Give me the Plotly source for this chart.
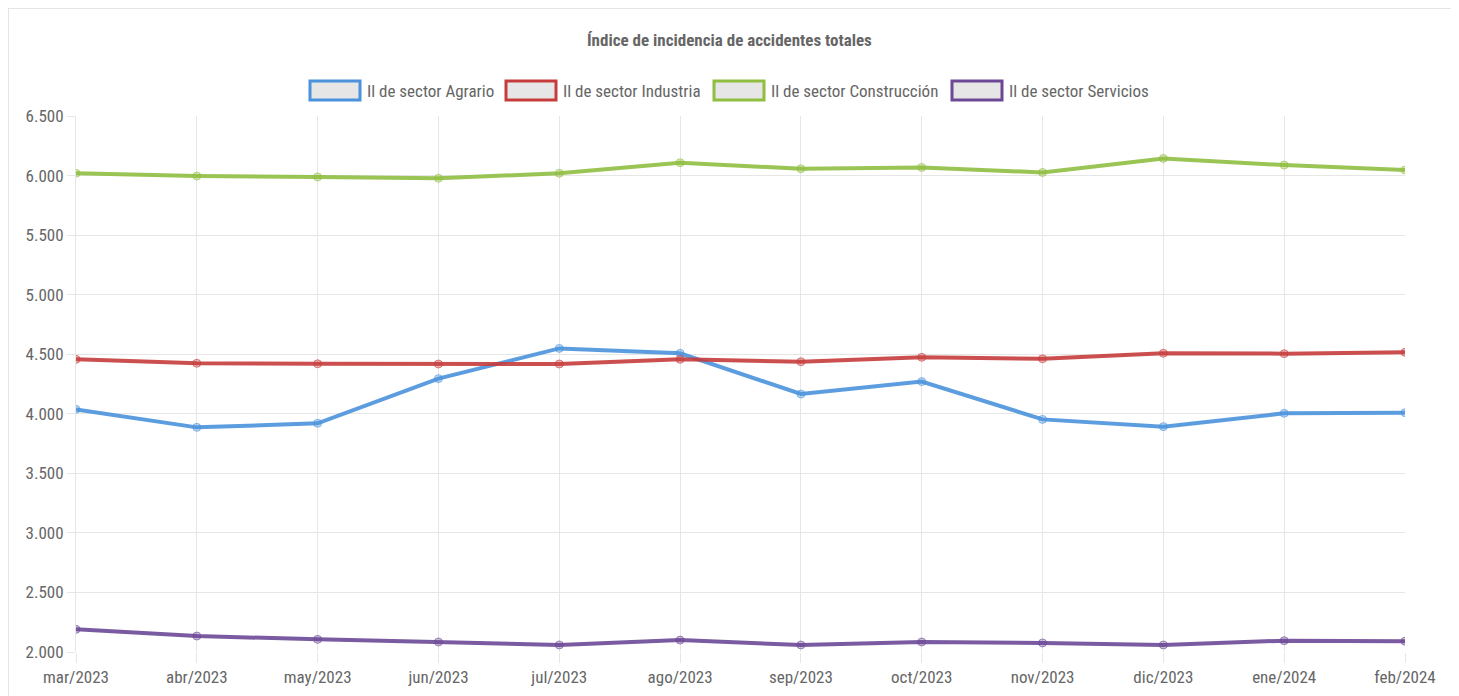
import plotly.graph_objects as go

months = ["mar/2023", "abr/2023", "may/2023", "jun/2023", "jul/2023", "ago/2023",
          "sep/2023", "oct/2023", "nov/2023", "dic/2023", "ene/2024", "feb/2024"]
agrario = [4037, 3886, 3920, 4295, 4549, 4508, 4166, 4270, 3953, 3892, 4004, 4009]
industria = [4457, 4424, 4420, 4418, 4418, 4457, 4437, 4474, 4462, 4508, 4505, 4516]
construccion = [6019, 5996, 5988, 5977, 6019, 6108, 6057, 6068, 6026, 6144, 6088, 6046]
servicios = [2190, 2134, 2106, 2084, 2059, 2100, 2059, 2084, 2076, 2059, 2095, 2090]

series = [
    ("Il de sector Agrario", agrario, (74, 146, 220)),
    ("Il de sector Industria", industria, (198, 60, 60)),
    ("Il de sector Construcción", construccion, (143, 190, 64)),
    ("Il de sector Servicios", servicios, (108, 72, 150)),
]

FONT = "Liberation Sans Narrow, Roboto Condensed, Arial Narrow, Roboto, sans-serif"
OFF = 8  # page body margin offset
W, H = 1459, 696
L, T = 76 - OFF, 116 - OFF
R = W - (1405 - OFF)
B = H - (652 - OFF)
pw, ph = W - L - R, H - T - B

def px(x):
    return (x - OFF - L) / pw

def py(y):
    return (H - B - (y - OFF)) / ph

fig = go.Figure()
for name, vals, c in series:
    fig.add_trace(go.Scatter(
        x=months, y=vals, name=name, mode="lines+markers",
        line=dict(color="rgba(%d,%d,%d,0.9)" % c, width=4),
        marker=dict(size=8, color="rgba(%d,%d,%d,0.35)" % c,
                    line=dict(color="rgba(%d,%d,%d,0.6)" % c, width=1)),
        showlegend=False,
    ))

shapes = []
annotations = []
shapes.append(dict(type="rect", xref="paper", yref="paper",
                   x0=px(8), x1=px(1452), y0=py(710), y1=py(8),
                   line=dict(color="#dddddd", width=1.5), fillcolor="rgba(0,0,0,0)", layer="below"))

legend_pos = [310, 506, 714, 952]
for (name, vals, c), x0 in zip(series, legend_pos):
    shapes.append(dict(type="rect", xref="paper", yref="paper",
                       x0=px(x0), x1=px(x0 + 50), y0=py(100), y1=py(81),
                       line=dict(color="rgb(%d,%d,%d)" % c, width=3),
                       fillcolor="#e6e6e6"))
    annotations.append(dict(text=name, xref="paper", yref="paper",
                            x=px(x0 + 55), y=py(90.5), xanchor="left", yanchor="middle",
                            showarrow=False, font=dict(family=FONT, size=17, color="#666666")))

annotations.append(dict(text="<b>Índice de incidencia de accidentes totales</b>",
                        xref="paper", yref="paper", x=px(729.5), y=py(40),
                        xanchor="center", yanchor="middle", showarrow=False,
                        font=dict(family=FONT, size=17, color="#666666")))

fig.update_layout(
    width=W, height=H,
    margin=dict(l=L, r=R, t=T, b=B, autoexpand=False),
    paper_bgcolor="white", plot_bgcolor="white",
    separators=",.",
    shapes=shapes, annotations=annotations,
    font=dict(family=FONT, size=17, color="#666666"),
    xaxis=dict(type="category", range=[0, len(months) - 1], showgrid=True,
               gridcolor="#e6e6e6", gridwidth=1, ticks="outside", ticklen=10,
               tickcolor="#e6e6e6", showline=False, zeroline=False,
               tickfont=dict(family=FONT, size=17, color="#666666")),
    yaxis=dict(range=[2000, 6500], dtick=500, tickformat=",.0f", showgrid=True,
               gridcolor="#e6e6e6", gridwidth=1, ticks="outside", ticklen=8,
               tickcolor="#e6e6e6", showline=True, linecolor="#e6e6e6", zeroline=False,
               tickfont=dict(family=FONT, size=17, color="#666666")),
)

fig.write_html("out.html")
